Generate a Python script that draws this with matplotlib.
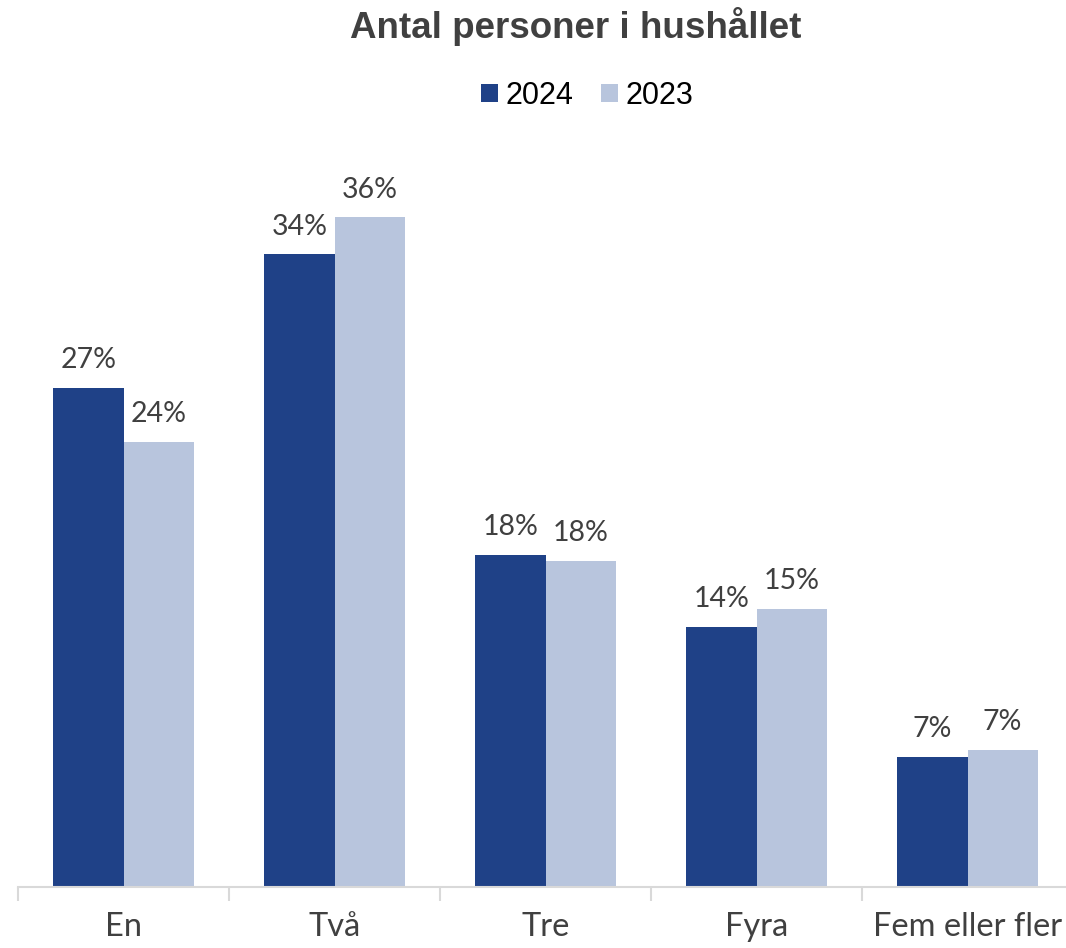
import numpy as np
import matplotlib.pyplot as plt
from matplotlib.ticker import FixedLocator

categories = ["En", "Två", "Tre", "Fyra", "Fem eller fler"]
values_2024 = [26.9, 34.1, 17.9, 14.0, 7.0]
values_2023 = [24.0, 36.1, 17.6, 15.0, 7.4]
series_names = ["2024", "2023"]
colors = ["#1f4187", "#b8c5dd"]

fig = plt.figure(figsize=(10.66, 9.48), dpi=100)
ax = fig.add_axes([18 / 1066, 61 / 948, 1055 / 1066, 742 / 948])

x = np.arange(len(categories))
w = 0.332
text_color = "#404040"
label_font = ["Lato", "DejaVu Sans"]

for i, (vals, name, c) in enumerate(zip([values_2024, values_2023], series_names, colors)):
    pos = x + (i - 0.5) * w
    bars = ax.bar(pos, vals, width=w, color=c, label=name, zorder=2)
    for b, v in zip(bars, vals):
        ax.text(b.get_x() + b.get_width() / 2, v + 0.8, f"{v:.0f}%",
                ha="center", va="bottom", fontsize=20.5, color=text_color,
                family=label_font)

ax.set_xlim(-0.5, len(categories) - 0.5)
ax.set_ylim(0, 40)
ax.set_yticks([])
for s in ["top", "right", "left"]:
    ax.spines[s].set_visible(False)
ax.spines["bottom"].set_color("#d9d9d9")
ax.spines["bottom"].set_linewidth(1.5)

ax.set_xticks(x)
ax.set_xticklabels(categories, fontsize=23.5, color=text_color, family=label_font)
ax.tick_params(axis="x", which="major", length=0, pad=18)
ax.xaxis.set_minor_locator(FixedLocator(np.arange(-0.5, len(categories), 1.0)))
ax.tick_params(axis="x", which="minor", length=10, width=1.5, color="#d9d9d9")

fig.text(0.54, 0.972, "Antal personer i hushållet", ha="center", va="center",
         fontsize=26.5, fontweight="bold", color=text_color, family="Liberation Sans")

fig.legend(loc="center", bbox_to_anchor=(0.551, 0.899), ncol=2, frameon=False,
           prop={"family": "Liberation Sans", "size": 22},
           handlelength=0.55, handleheight=0.55, handletextpad=0.25, columnspacing=0.9)

plt.savefig("out.png", dpi=100)
